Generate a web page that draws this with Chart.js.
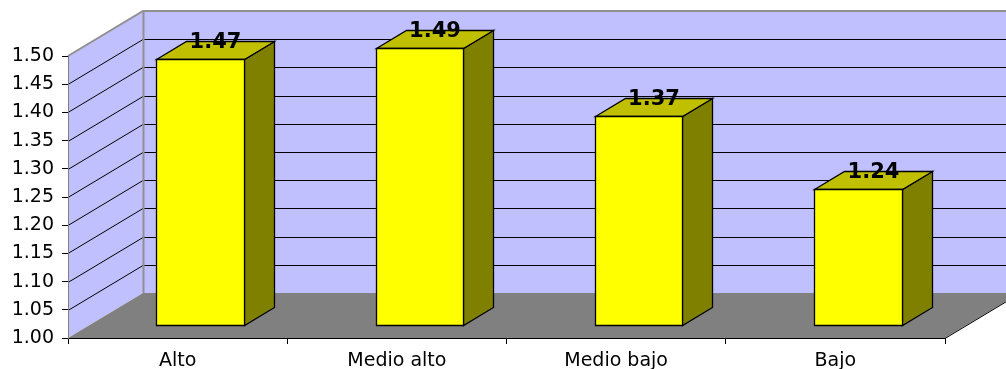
<!DOCTYPE html>
<html>
<head>
<meta charset="utf-8">
<script src="https://cdn.jsdelivr.net/npm/chart.js@4/dist/chart.umd.min.js"></script>
<style>
  html, body { margin: 0; padding: 0; background: #fff; }
  canvas { display: block; }
</style>
</head>
<body>
<canvas id="chart" width="1006" height="369"></canvas>
<script>
const categories = ['Alto', 'Medio alto', 'Medio bajo', 'Bajo'];
const values = [1.47, 1.49, 1.37, 1.24];
const yTicks = [1.00, 1.05, 1.10, 1.15, 1.20, 1.25, 1.30, 1.35, 1.40, 1.45, 1.50];

// 3d look: full depth of the box and where the bars sit in it
const depth = { dx: 75, dy: -45 };
const barFront = 0.3, barBack = 0.7;

const wallColor = '#C0C0FF';
const floorColor = '#808080';
const edgeColor = '#909090';

function poly(ctx, pts, fill, stroke) {
    ctx.beginPath();
    ctx.moveTo(pts[0][0], pts[0][1]);
    for (let i = 1; i < pts.length; i++) ctx.lineTo(pts[i][0], pts[i][1]);
    ctx.closePath();
    if (fill) { ctx.fillStyle = fill; ctx.fill(); }
    if (stroke) { ctx.strokeStyle = stroke; ctx.stroke(); }
}

const box3d = {
    id: 'box3d',
    beforeDraw(chart) {
        const ctx = chart.ctx;
        const x = chart.scales.x, y = chart.scales.y;
        const L = x.left, R = x.right;
        const yB = y.getPixelForValue(yTicks[0]);
        const yT = y.getPixelForValue(yTicks[yTicks.length - 1]);
        const dx = depth.dx, dy = depth.dy;
        ctx.save();
        ctx.lineWidth = 1;
        // side wall
        poly(ctx, [[L, yB], [L + dx, yB + dy], [L + dx, yT + dy], [L, yT]], wallColor, null);
        // back wall
        poly(ctx, [[L + dx, yT + dy], [R + dx, yT + dy], [R + dx, yB + dy], [L + dx, yB + dy]], wallColor, null);
        // floor
        poly(ctx, [[L, yB], [R, yB], [R + dx, yB + dy], [L + dx, yB + dy]], floorColor, null);
        // grid lines along the walls
        y.ticks.forEach(t => {
            if (t.value <= yTicks[0] + 1e-9 || t.value >= yTicks[yTicks.length - 1] - 1e-9) return;
            const py = Math.round(y.getPixelForValue(t.value)) + 0.5;
            ctx.beginPath();
            ctx.moveTo(L, py);
            ctx.lineTo(L + dx, py + dy);
            ctx.lineTo(R + dx, py + dy);
            ctx.strokeStyle = '#000';
            ctx.stroke();
        });
        // wall edges
        ctx.strokeStyle = edgeColor;
        ctx.lineWidth = 2;
        ctx.beginPath();
        ctx.moveTo(L, yT);
        ctx.lineTo(L + dx, yT + dy);
        ctx.lineTo(R + dx, yT + dy);
        ctx.moveTo(L + dx + 0.5, yT + dy);
        ctx.lineTo(L + dx + 0.5, yB + dy);
        ctx.stroke();
        // right floor edge
        ctx.strokeStyle = '#000';
        ctx.lineWidth = 1;
        ctx.beginPath();
        ctx.moveTo(R, yB + 0.5);
        ctx.lineTo(R + dx, yB + dy + 0.5);
        ctx.stroke();
        ctx.restore();
    },
    afterDatasetsDraw(chart) {
        const ctx = chart.ctx;
        const y = chart.scales.y;
        const meta = chart.getDatasetMeta(0);
        const ox = depth.dx * barFront, oy = depth.dy * barFront;
        const bx = depth.dx * (barBack - barFront), by = depth.dy * (barBack - barFront);
        const base = y.getPixelForValue(yTicks[0]);
        ctx.save();
        ctx.lineWidth = 1.3;
        ctx.lineJoin = 'miter';
        meta.data.forEach((bar, i) => {
            const l = Math.round(bar.x - bar.width / 2 + ox) + 0.5;
            const r = Math.round(bar.x + bar.width / 2 + ox) + 0.5;
            const t = Math.round(bar.y + oy) + 0.5;
            const b = Math.round(base + oy) + 0.5;
            poly(ctx, [[r, t], [r + bx, t + by], [r + bx, b + by], [r, b]], '#808000', '#000');
            poly(ctx, [[l, t], [r, t], [r + bx, t + by], [l + bx, t + by]], '#C0C000', '#000');
            poly(ctx, [[l, t], [r, t], [r, b], [l, b]], '#FFFF00', '#000');
            ctx.fillStyle = '#000';
            ctx.font = 'bold 21px "DejaVu Sans"';
            ctx.textAlign = 'center';
            ctx.textBaseline = 'middle';
            ctx.fillText(values[i].toFixed(2), (l + r) / 2 + bx / 2, t + by / 2 - 8);
        });
        ctx.restore();
    }
};

new Chart(document.getElementById('chart'), {
    type: 'bar',
    data: {
        labels: categories,
        datasets: [{
            data: values,
            backgroundColor: 'rgba(0,0,0,0)',
            borderWidth: 0,
            barPercentage: 0.4,
            categoryPercentage: 1
        }]
    },
    options: {
        responsive: false,
        animation: false,
        devicePixelRatio: 1,
        layout: { padding: { top: 56, right: 61, left: 0, bottom: 0 } },
        plugins: {
            legend: { display: false },
            tooltip: { enabled: false }
        },
        scales: {
            x: {
                afterFit: s => { s.height = 31; },
                grid: { offset: true, drawOnChartArea: false, tickLength: 6, color: '#000' },
                border: { color: '#000' },
                ticks: { color: '#000', padding: 6, font: { family: '"DejaVu Sans"', size: 19 } }
            },
            y: {
                min: yTicks[0],
                max: yTicks[yTicks.length - 1],
                afterFit: s => { s.width = 68; },
                grid: { drawOnChartArea: false, tickLength: 6, color: '#000' },
                border: { color: '#808080' },
                ticks: {
                    stepSize: 0.05,
                    color: '#000',
                    padding: 8,
                    font: { family: '"DejaVu Sans"', size: 19 },
                    callback: v => Number(v).toFixed(2)
                }
            }
        }
    },
    plugins: [box3d]
});
</script>
</body>
</html>
